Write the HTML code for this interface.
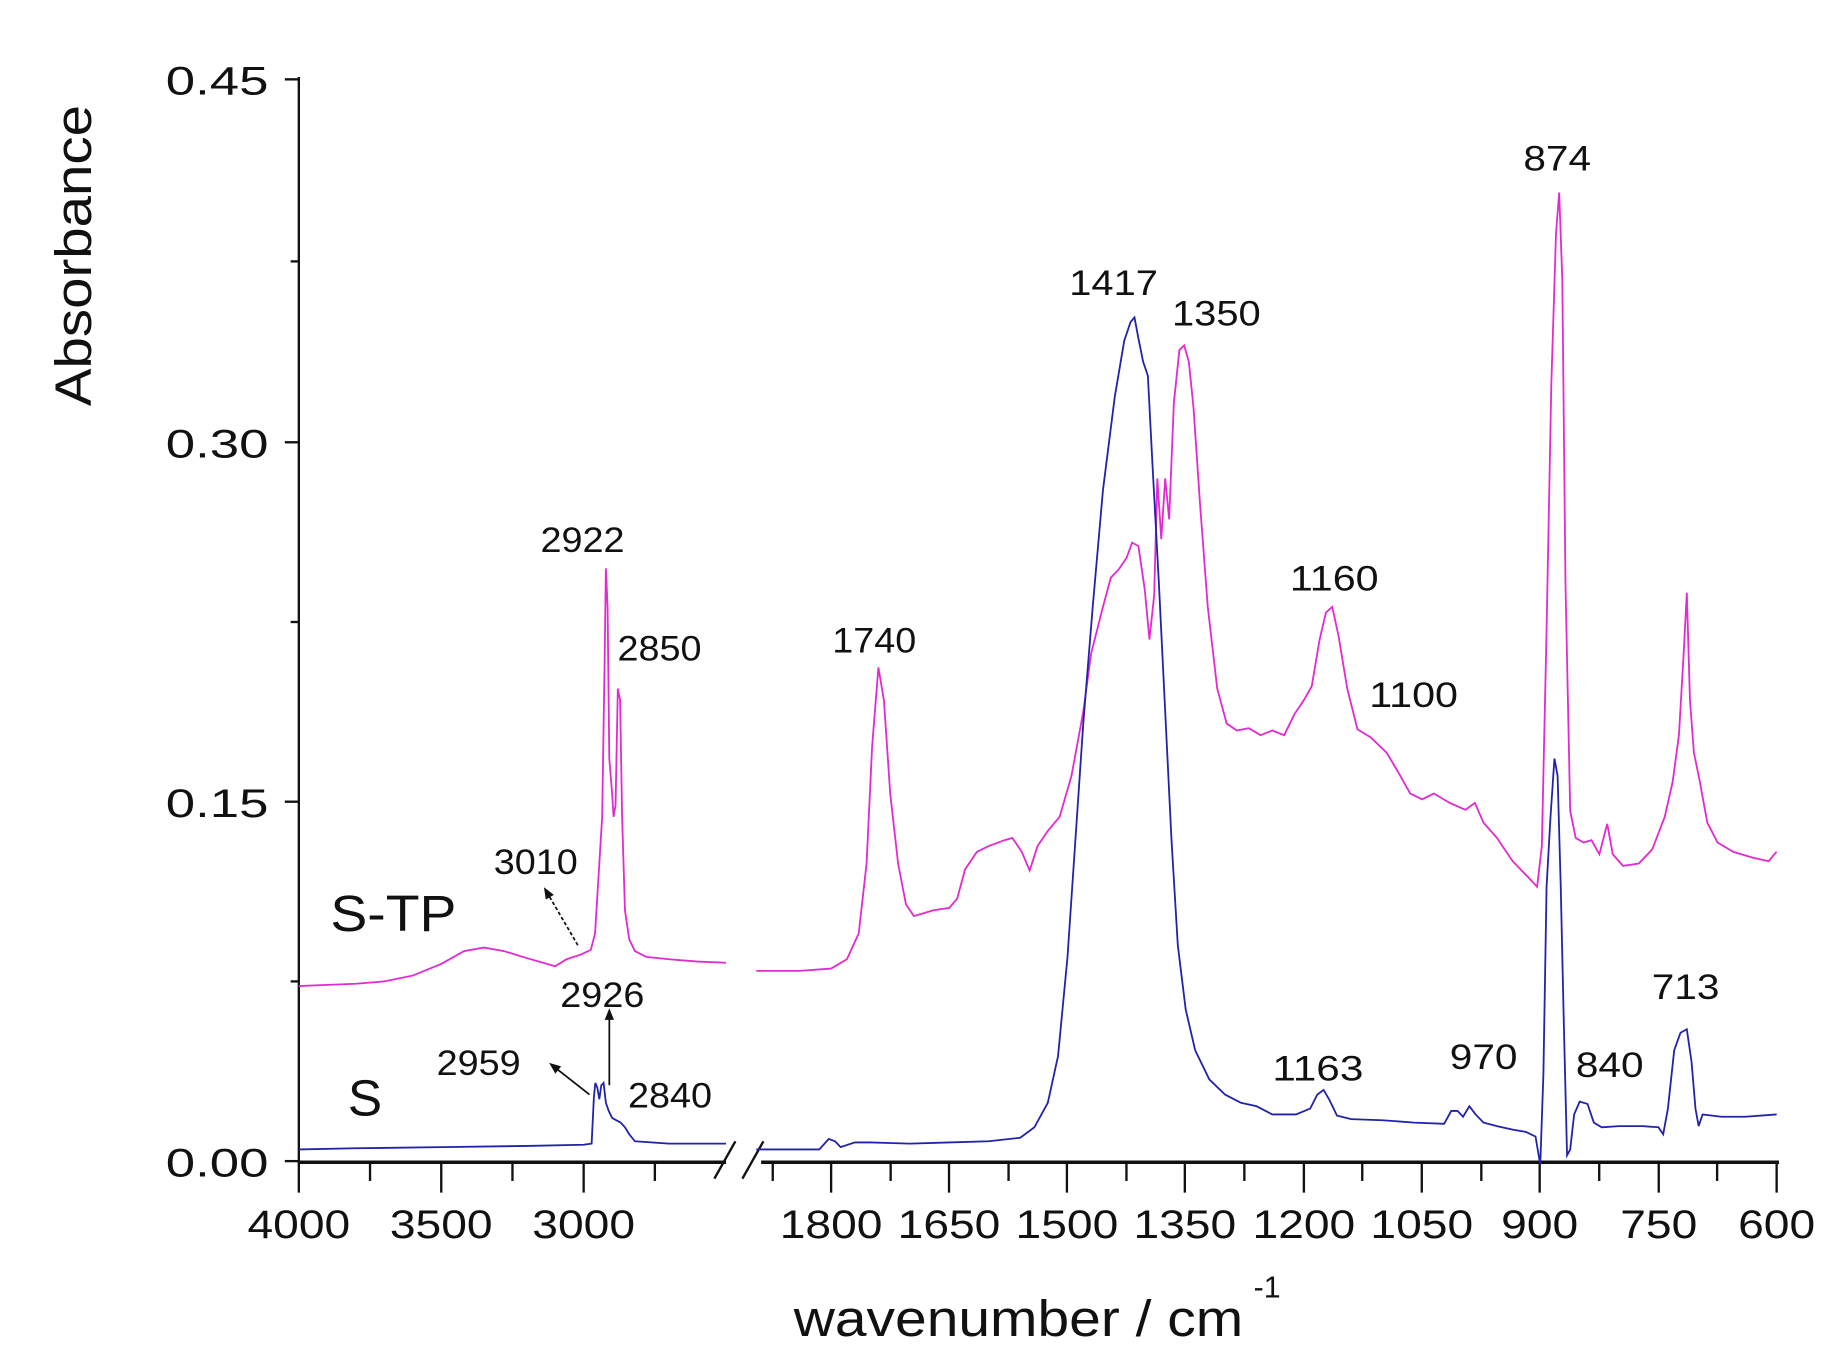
<!DOCTYPE html>
<html><head><meta charset="utf-8"><style>
html,body{margin:0;padding:0;background:#fff}
svg{display:block}
text{font-family:"Liberation Sans",Arial,sans-serif;fill:#111}
</style></head><body>
<svg width="1821" height="1363" viewBox="0 0 1560 1168" preserveAspectRatio="none" xmlns="http://www.w3.org/2000/svg">
<defs>
<marker id="ah" markerWidth="10" markerHeight="10" refX="8" refY="5" orient="auto" markerUnits="userSpaceOnUse"><path d="M0,1 L10,5 L0,9 Z" fill="#111"/></marker>
</defs>
<line x1="256" y1="66" x2="256" y2="997" stroke="#111" stroke-width="2"/>
<line x1="256" y1="996" x2="1524" y2="996" stroke="#111" stroke-width="3"/>
<g stroke="#111" stroke-width="2">
<line x1="244" y1="68" x2="256" y2="68"/><line x1="244" y1="379" x2="256" y2="379"/><line x1="244" y1="687" x2="256" y2="687"/><line x1="244" y1="995" x2="256" y2="995"/>
<line x1="249" y1="224" x2="256" y2="224"/><line x1="249" y1="533" x2="256" y2="533"/><line x1="249" y1="841" x2="256" y2="841"/>
<line x1="256" y1="996" x2="256" y2="1022"/><line x1="378" y1="996" x2="378" y2="1022"/><line x1="500" y1="996" x2="500" y2="1022"/>
<line x1="317" y1="996" x2="317" y2="1012"/><line x1="439" y1="996" x2="439" y2="1012"/><line x1="561" y1="996" x2="561" y2="1012"/>
<line x1="712" y1="996" x2="712" y2="1022"/><line x1="813" y1="996" x2="813" y2="1022"/><line x1="914" y1="996" x2="914" y2="1022"/><line x1="1015" y1="996" x2="1015" y2="1022"/><line x1="1117" y1="996" x2="1117" y2="1022"/><line x1="1218" y1="996" x2="1218" y2="1022"/><line x1="1319" y1="996" x2="1319" y2="1022"/><line x1="1421" y1="996" x2="1421" y2="1022"/><line x1="1522" y1="996" x2="1522" y2="1022"/>
<line x1="662" y1="996" x2="662" y2="1012"/><line x1="763" y1="996" x2="763" y2="1012"/><line x1="864" y1="996" x2="864" y2="1012"/><line x1="965" y1="996" x2="965" y2="1012"/><line x1="1066" y1="996" x2="1066" y2="1012"/><line x1="1167" y1="996" x2="1167" y2="1012"/><line x1="1269" y1="996" x2="1269" y2="1012"/><line x1="1370" y1="996" x2="1370" y2="1012"/><line x1="1471" y1="996" x2="1471" y2="1012"/>
</g>
<rect x="622" y="985" width="30" height="22" fill="#fff"/>
<g stroke="#111" stroke-width="2"><line x1="612" y1="1010" x2="630" y2="978"/><line x1="636" y1="1010" x2="654" y2="978"/></g>
<g font-size="34" lengthAdjust="spacingAndGlyphs">
<text x="142" y="81" textLength="88" lengthAdjust="spacingAndGlyphs">0.45</text><text x="142" y="392" textLength="88" lengthAdjust="spacingAndGlyphs">0.30</text><text x="142" y="700" textLength="88" lengthAdjust="spacingAndGlyphs">0.15</text><text x="142" y="1008" textLength="88" lengthAdjust="spacingAndGlyphs">0.00</text>
</g>
<g font-size="34">
<text x="212" y="1061" textLength="88" lengthAdjust="spacingAndGlyphs">4000</text><text x="334" y="1061" textLength="88" lengthAdjust="spacingAndGlyphs">3500</text><text x="456" y="1061" textLength="88" lengthAdjust="spacingAndGlyphs">3000</text>
<text x="668" y="1061" textLength="88" lengthAdjust="spacingAndGlyphs">1800</text><text x="769" y="1061" textLength="88" lengthAdjust="spacingAndGlyphs">1650</text><text x="870" y="1061" textLength="88" lengthAdjust="spacingAndGlyphs">1500</text><text x="971" y="1061" textLength="88" lengthAdjust="spacingAndGlyphs">1350</text><text x="1073" y="1061" textLength="88" lengthAdjust="spacingAndGlyphs">1200</text><text x="1174" y="1061" textLength="88" lengthAdjust="spacingAndGlyphs">1050</text><text x="1286" y="1061" textLength="66" lengthAdjust="spacingAndGlyphs">900</text><text x="1388" y="1061" textLength="66" lengthAdjust="spacingAndGlyphs">750</text><text x="1489" y="1061" textLength="66" lengthAdjust="spacingAndGlyphs">600</text>
</g>
<text x="680" y="1145" font-size="44" textLength="385" lengthAdjust="spacingAndGlyphs">wavenumber / cm</text>
<text x="1074" y="1112" font-size="26">-1</text>
<text transform="translate(78,348) rotate(-90)" font-size="44" textLength="258" lengthAdjust="spacingAndGlyphs">Absorbance</text>
<text x="283" y="798" font-size="44" textLength="108" lengthAdjust="spacingAndGlyphs">S-TP</text>
<text x="298" y="956" font-size="44">S</text>
<g font-size="30">
<text x="463" y="473" textLength="72" lengthAdjust="spacingAndGlyphs">2922</text><text x="529" y="566" textLength="72" lengthAdjust="spacingAndGlyphs">2850</text><text x="423" y="749" textLength="72" lengthAdjust="spacingAndGlyphs">3010</text>
<text x="480" y="863" textLength="72" lengthAdjust="spacingAndGlyphs">2926</text><text x="374" y="921" textLength="72" lengthAdjust="spacingAndGlyphs">2959</text><text x="538" y="949" textLength="72" lengthAdjust="spacingAndGlyphs">2840</text>
<text x="713" y="559" textLength="72" lengthAdjust="spacingAndGlyphs">1740</text><text x="916" y="253" textLength="76" lengthAdjust="spacingAndGlyphs">1417</text><text x="1004" y="279" textLength="76" lengthAdjust="spacingAndGlyphs">1350</text>
<text x="1105" y="506" textLength="76" lengthAdjust="spacingAndGlyphs">1160</text><text x="1173" y="606" textLength="76" lengthAdjust="spacingAndGlyphs">1100</text><text x="1305" y="146" textLength="58" lengthAdjust="spacingAndGlyphs">874</text>
<text x="1090" y="926" textLength="78" lengthAdjust="spacingAndGlyphs">1163</text><text x="1242" y="916" textLength="58" lengthAdjust="spacingAndGlyphs">970</text><text x="1350" y="923" textLength="58" lengthAdjust="spacingAndGlyphs">840</text><text x="1415" y="856" textLength="58" lengthAdjust="spacingAndGlyphs">713</text>
</g>
<line x1="495" y1="810" x2="467" y2="762" stroke="#111" stroke-width="1.5" stroke-dasharray="3,2" marker-end="url(#ah)"/>
<line x1="505" y1="938" x2="472" y2="912" stroke="#111" stroke-width="1.5" marker-end="url(#ah)"/>
<line x1="522" y1="930" x2="522" y2="866" stroke="#111" stroke-width="1.5" marker-end="url(#ah)"/>
<g transform="matrix(-0.244,0,0,1,1232,0)" fill="none" stroke-width="1.8">
<polyline vector-effect="non-scaling-stroke" stroke="#e22ad0" points="4000,845 3900,844 3800,843 3700,841 3600,836 3500,826 3420,815 3350,812 3280,815 3200,821 3100,828 3060,822 3010,818 2975,814 2960,800 2945,740 2935,700 2926,560 2922,487 2916,520 2910,650 2900,680 2895,700 2888,690 2880,590 2872,600 2865,700 2855,780 2840,805 2820,815 2780,820 2700,822 2600,824 2500,825"/>
<polyline vector-effect="non-scaling-stroke" stroke="#2222aa" points="4000,985 3800,984 3500,983 3200,982 3000,981 2972,980 2964,940 2959,928 2952,932 2945,942 2938,930 2930,928 2922,945 2912,952 2900,958 2885,960 2870,962 2855,966 2840,972 2820,978 2700,980 2500,980"/>
</g>
<g transform="matrix(-0.675,0,0,1,1927,0)" fill="none" stroke-width="1.8">
<polyline vector-effect="non-scaling-stroke" stroke="#e22ad0" points="1895,832 1840,832 1800,830 1780,822 1765,800 1755,740 1748,640 1740,572 1733,600 1725,680 1715,740 1705,775 1695,785 1670,780 1650,778 1640,770 1630,745 1615,730 1600,725 1580,720 1570,718 1558,730 1548,746 1538,725 1525,712 1510,700 1495,665 1480,610 1470,560 1455,520 1445,495 1435,488 1425,478 1418,465 1410,468 1402,505 1396,548 1390,510 1386,410 1381,462 1376,410 1371,445 1365,345 1358,300 1352,296 1346,310 1340,350 1332,430 1322,520 1310,590 1298,620 1285,626 1270,624 1255,630 1240,626 1225,630 1212,612 1200,600 1190,588 1180,548 1172,525 1164,520 1156,545 1145,590 1132,625 1115,632 1095,645 1080,662 1065,680 1050,685 1035,680 1015,688 995,694 983,688 972,705 955,718 935,738 915,752 904,760 898,725 892,540 886,330 880,200 876,165 872,240 868,500 862,695 855,718 845,722 835,720 825,732 815,706 808,732 795,742 775,740 758,728 742,700 732,670 724,630 718,560 714,508 710,600 705,645 698,668 688,705 675,722 655,730 630,735 610,738 603,732 600,730"/>
<polyline vector-effect="non-scaling-stroke" stroke="#2222aa" points="1895,985 1815,985 1803,976 1795,978 1788,983 1770,979 1750,979 1700,980 1650,979 1600,978 1560,975 1542,966 1525,945 1512,905 1500,820 1490,720 1480,620 1468,520 1455,420 1440,340 1428,292 1420,276 1415,272 1410,290 1404,310 1398,322 1392,400 1384,500 1376,610 1368,720 1360,810 1350,865 1338,900 1320,925 1300,938 1280,945 1260,948 1240,955 1210,955 1192,950 1183,938 1175,934 1168,942 1158,956 1140,959 1100,960 1060,962 1022,963 1013,952 1005,952 998,957 990,948 982,955 972,962 955,965 935,968 918,970 906,974 900,998 896,920 892,760 887,700 882,650 878,665 874,760 870,880 866,990 862,985 857,955 850,944 840,946 832,962 822,966 800,965 770,965 750,966 744,972 738,950 730,900 722,885 714,882 708,910 703,950 699,965 694,955 670,957 640,957 600,955"/>
</g>
</svg>
</body></html>
